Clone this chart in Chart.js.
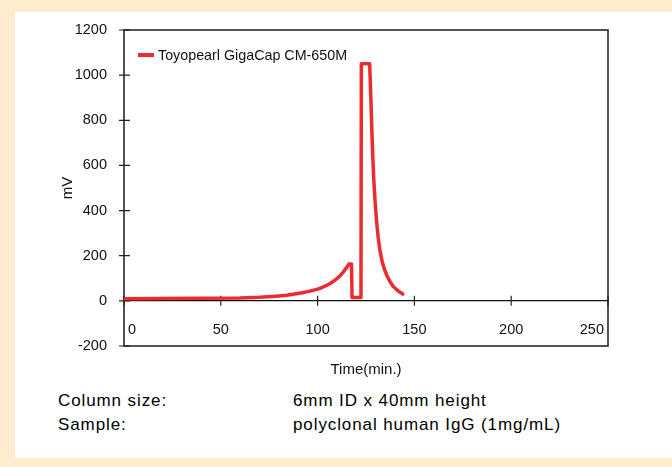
<!DOCTYPE html>
<html>
<head>
<meta charset="utf-8">
<script src="https://cdn.jsdelivr.net/npm/chart.js@4.4.1/dist/chart.umd.min.js"></script>
<style>
  html, body { margin: 0; padding: 0; }
  body { width: 672px; height: 467px; background: #FFEBCD; position: relative; overflow: hidden; }
  #panel { position: absolute; left: 15px; top: 12px; width: 657px; height: 446px; background: #fff; }
  #chart { position: absolute; left: 0; top: 0; }
  .note { position: absolute; font-family: 'Liberation Sans', Arial, sans-serif; font-size: 17px;
          letter-spacing: 0.9px; color: #000; line-height: 21px; white-space: nowrap; }
</style>
</head>
<body>
<div id="panel">
  <canvas id="chart" width="657" height="375"></canvas>
  <div class="note" style="left:43px; top:378px;">Column size:</div>
  <div class="note" style="left:278px; top:378px;">6mm ID x 40mm height</div>
  <div class="note" style="left:43px; top:402px;">Sample:</div>
  <div class="note" style="left:278px; top:402px;">polyclonal human IgG (1mg/mL)</div>
</div>
<script>
// chromatogram
const seriesLabel = 'Toyopearl GigaCap CM-650M';
const timeMin = [
  0, 20, 40, 60, 70, 80, 84, 88, 92, 96, 100, 102, 104, 106, 108, 109.5, 111, 112, 113, 114, 115, 116.2, 117.5,
  117.8, 122.4, 122.6, 126.9,
  127.5, 128, 128.5, 129, 129.7, 130.5, 131.3, 132.2, 133.3, 134.5, 136, 137.5, 139, 140.5, 142.2, 144
];
const signalMv = [
  9, 10, 11, 13, 16, 22, 25, 30, 36, 43, 52, 58, 66, 75, 86, 95, 106, 115, 125, 136, 148, 163, 163,
  15, 15, 1050, 1050,
  900, 760, 640, 540, 440, 350, 280, 225, 175, 140, 108, 84, 65, 52, 40, 30
];
const xTicks = [0, 50, 100, 150, 200, 250];
const yTicks = [-200, 0, 200, 400, 600, 800, 1000, 1200];

const lineColor = '#ED2B2F';
const fontFamily = "'Liberation Sans', Arial, sans-serif";
const tickFont = { family: fontFamily, size: 14.5 };
const inkColor = '#111';

// box round the plot plus the short cross ticks
const framePlugin = {
  id: 'frame',
  beforeDatasetsDraw(chart) {
    const { ctx, chartArea: a, scales: { x, y } } = chart;
    ctx.save();
    ctx.strokeStyle = '#2a2a2a';
    ctx.lineWidth = 1.6;
    ctx.strokeRect(a.left, a.top, a.right - a.left, a.bottom - a.top);
    ctx.lineWidth = 1.2;
    ctx.strokeStyle = '#222';
    ctx.beginPath();
    yTicks.forEach((v) => {
      const py = y.getPixelForValue(v);
      ctx.moveTo(a.left - 5, py);
      ctx.lineTo(a.left + 6, py);
    });
    const zeroY = y.getPixelForValue(0);
    xTicks.forEach((v) => {
      const px = x.getPixelForValue(v);
      ctx.moveTo(px, zeroY - 5);
      ctx.lineTo(px, zeroY + 5);
    });
    ctx.stroke();
    ctx.restore();
  },
  afterDatasetsDraw(chart) {
    // legend sits inside the plot, top left
    const { ctx, chartArea: a } = chart;
    const ds = chart.data.datasets[0];
    ctx.save();
    ctx.strokeStyle = ds.borderColor;
    ctx.lineWidth = 4;
    ctx.beginPath();
    ctx.moveTo(a.left + 14, a.top + 25);
    ctx.lineTo(a.left + 30, a.top + 25);
    ctx.stroke();
    ctx.fillStyle = inkColor;
    ctx.font = '14.3px ' + fontFamily;
    ctx.textBaseline = 'middle';
    ctx.fillText(ds.label, a.left + 34, a.top + 26);
    ctx.restore();
  },
};

new Chart(document.getElementById('chart'), {
  type: 'line',
  data: {
    datasets: [{
      label: seriesLabel,
      data: timeMin.map((t, i) => ({ x: t, y: signalMv[i] })),
      borderColor: lineColor,
      borderWidth: 3.5,
      borderJoinStyle: 'round',
      borderCapStyle: 'round',
      pointRadius: 0,
      tension: 0,
      fill: false,
    }],
  },
  options: {
    responsive: false,
    animation: false,
    layout: { padding: { top: 18, right: 64, left: 0, bottom: 0 } },
    plugins: {
      legend: { display: false },
      tooltip: { enabled: false },
    },
    scales: {
      x: {
        type: 'linear',
        min: 0,
        max: 250,
        position: { y: 0 },
        afterBuildTicks: (s) => { s.ticks = xTicks.map((v) => ({ value: v })); },
        grid: { display: false, drawTicks: false },
        border: { display: true, color: '#111', width: 1.2 },
        ticks: {
          align: 'inner',
          padding: 20,
          color: inkColor,
          font: tickFont,
          callback: (v) => (v === 0 ? ' 0' : v === 250 ? '250 ' : String(v)),
        },
      },
      xTitle: {
        type: 'linear',
        axis: 'x',
        position: 'bottom',
        min: 0,
        max: 250,
        grid: { display: false, drawTicks: false },
        border: { display: false },
        ticks: { display: false },
        title: {
          display: true,
          text: 'Time(min.)',
          color: inkColor,
          font: { family: fontFamily, size: 15 },
          padding: { top: 0, bottom: 8 },
        },
        afterFit: (s) => { s.height = 41; },
      },
      y: {
        type: 'linear',
        min: -200,
        max: 1200,
        afterBuildTicks: (s) => { s.ticks = yTicks.map((v) => ({ value: v })); },
        // tick marks come from the frame plugin; tickLength only spaces the labels
        grid: { display: false, drawTicks: true, tickLength: 12 },
        border: { display: false },
        ticks: { padding: 5, color: inkColor, font: tickFont, callback: (v) => String(v) },
        title: {
          display: true,
          text: 'mV',
          color: inkColor,
          font: { family: fontFamily, size: 15 },
          padding: { top: 44, bottom: 0 },
        },
        afterFit: (s) => { s.width = 109; },
      },
    },
  },
  plugins: [framePlugin],
});
</script>
</body>
</html>
